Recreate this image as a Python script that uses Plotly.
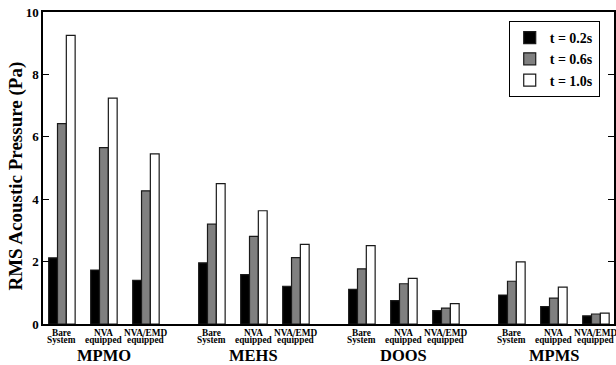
import plotly.graph_objects as go

systems = ["MPMO", "MEHS", "DOOS", "MPMS"]
configs_line1 = ["Bare", "NVA", "NVA/EMD"]
configs_line2 = ["System", "equipped", "equipped"]
series_names = ["t = 0.2s", "t = 0.6s", "t = 1.0s"]

# values per system, per configuration (Bare, NVA, NVA/EMD)
t02 = [2.12, 1.73, 1.40, 1.96, 1.58, 1.21, 1.11, 0.75, 0.43, 0.93, 0.56, 0.26]
t06 = [6.42, 5.65, 4.27, 3.20, 2.81, 2.13, 1.77, 1.29, 0.51, 1.37, 0.83, 0.32]
t10 = [9.25, 7.24, 5.45, 4.50, 3.63, 2.55, 2.51, 1.46, 0.65, 1.99, 1.18, 0.35]

y_ticks = [0, 2, 4, 6, 8, 10]
y_title = "RMS Acoustic Pressure (Pa)"

FONT = "Liberation Serif"
stride = 3.57
xpos = [g * stride + i for g in range(len(systems)) for i in range(len(configs_line1))]

fills = ["#000000", "#808080", "#ffffff"]
offsets = [-0.315, -0.105, 0.105]

def b(t):
    return "<b>" + t + "</b>"

fig = go.Figure()
for name, vals, fc, off in zip(series_names, [t02, t06, t10], fills, offsets):
    fig.add_trace(go.Bar(
        x=xpos, y=vals, name=b(name),
        width=0.21, offset=off,
        marker=dict(color=fc, line=dict(color="#1a1a1a", width=1.2)),
    ))

annotations = []
for g, s in enumerate(systems):
    annotations.append(dict(
        x=g * stride + 1, y=0, xref="x", yref="paper", text=b(s),
        showarrow=False, yanchor="middle", yshift=-31,
        font=dict(family=FONT, size=16.5, color="black"),
    ))
    for i in range(len(configs_line1)):
        for txt, sh in ((configs_line1[i], -8.5), (configs_line2[i], -16)):
            annotations.append(dict(
                x=g * stride + i, y=0, xref="x", yref="paper", text=b(txt),
                showarrow=False, yanchor="middle", yshift=sh,
                font=dict(family=FONT, size=9.3, color="black"),
            ))

annotations.append(dict(
    x=-0.047, y=0.473, xref="paper", yref="paper", text=b(y_title),
    textangle=-90, showarrow=False, xanchor="center", yanchor="middle",
    font=dict(family=FONT, size=19, color="black"),
))

fig.update_layout(
    width=616, height=365,
    margin=dict(l=43, r=2, t=12, b=41, autoexpand=False),
    paper_bgcolor="white", plot_bgcolor="white",
    showlegend=True,
    legend=dict(
        x=0.975, y=0.971, xanchor="right", yanchor="top",
        bordercolor="black", borderwidth=1, bgcolor="white",
        font=dict(family=FONT, size=14, color="black"),
        tracegroupgap=0, itemwidth=30,
    ),
    annotations=annotations,
    xaxis=dict(
        range=[-0.45, 13.14], showticklabels=False, ticks="",
        showline=True, linecolor="black", linewidth=1.5, mirror=True,
        showgrid=False, zeroline=False, automargin=False,
    ),
    yaxis=dict(
        range=[0, 10], tickvals=y_ticks, ticktext=[b(str(v)) for v in y_ticks],
        ticks="inside", ticklen=6, ticklabeloverflow="allow",
        tickcolor="black", tickwidth=1.2, automargin=False,
        showline=True, linecolor="black", linewidth=1.5, mirror="ticks",
        showgrid=False, zeroline=False,
        tickfont=dict(family=FONT, size=13, color="black"),
    ),
)

fig.write_html(
    "out.html",
    config={"displayModeBar": False},
    post_script="document.body.style.margin='0';document.body.style.overflow='hidden';",
)
